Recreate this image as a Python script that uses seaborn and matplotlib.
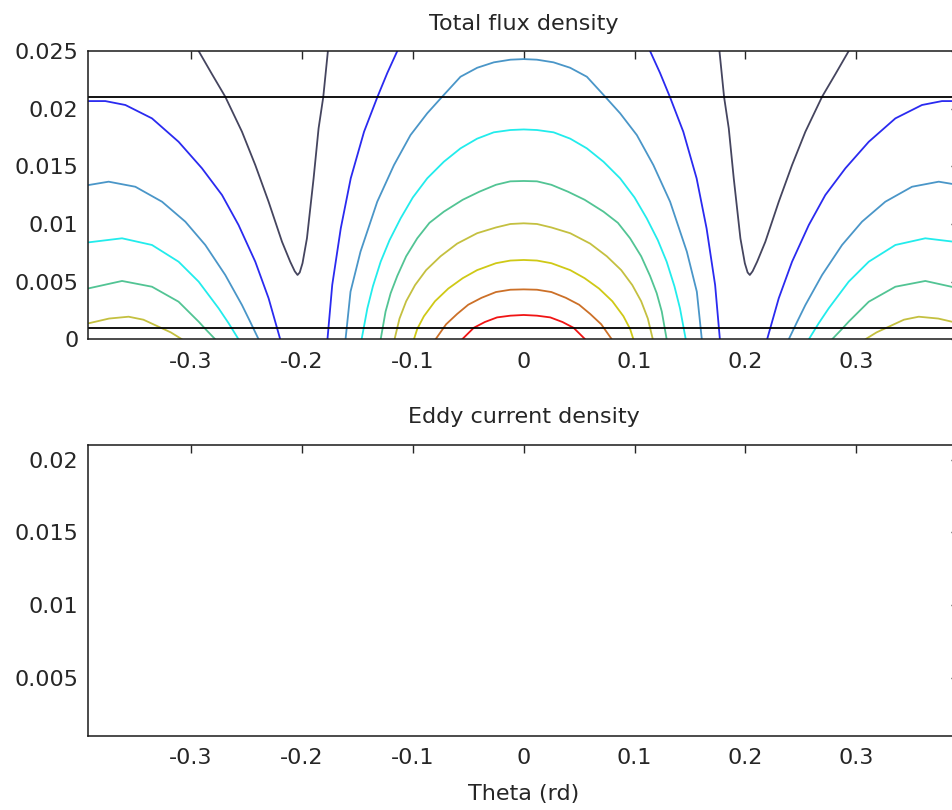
import matplotlib
matplotlib.use("Agg")
import matplotlib.pyplot as plt
import seaborn as sns

# x limits of both panels (rad) and y limits (m)
theta_lim = [-0.3927, 0.3927]
top_ylim = [0, 0.025]
bottom_ylim = [0.001, 0.021]
gap_lines = [0.001, 0.021]

x_ticks = [-0.3, -0.2, -0.1, 0, 0.1, 0.2, 0.3]
x_ticklabels = ["-0.3", "-0.2", "-0.1", "0", "0.1", "0.2", "0.3"]
top_yticks = [0, 0.005, 0.01, 0.015, 0.02, 0.025]
top_yticklabels = ["0", "0.005", "0.01", "0.015", "0.02", "0.025"]
bottom_yticks = [0.005, 0.01, 0.015, 0.02]
bottom_yticklabels = ["0.005", "0.01", "0.015", "0.02"]

# contour colours, lowest level first
level_colors = ["#45455f", "#2a2af0", "#4a96c8", "#22ecec", "#52c494",
                "#c4c040", "#cfc916", "#cc7028", "#f01414"]

# central domes, right half (x >= 0), mirrored later
red_x = [0, 0.012, 0.024, 0.035, 0.045, 0.0555]
red_y = [0.00211, 0.00205, 0.0019, 0.0015, 0.0010, 0]
orange_x = [0, 0.012, 0.025, 0.038, 0.05, 0.06, 0.07, 0.0795]
orange_y = [0.00433, 0.0043, 0.0041, 0.0036, 0.0030, 0.0022, 0.0013, 0]
yellow2_x = [0, 0.012, 0.025, 0.042, 0.055, 0.068, 0.08, 0.09, 0.096, 0.099]
yellow2_y = [0.00688, 0.00683, 0.0066, 0.0060, 0.0053, 0.0044, 0.0033, 0.0020,
             0.0009, 0]
yellow1_x = [0, 0.012, 0.025, 0.042, 0.06, 0.075, 0.088, 0.098, 0.106, 0.112,
             0.1165]
yellow1_y = [0.01006, 0.0100, 0.0097, 0.0092, 0.0083, 0.0072, 0.0060, 0.0047,
             0.0033, 0.0018, 0]
teal_x = [0, 0.012, 0.025, 0.04, 0.055, 0.072, 0.085, 0.096, 0.106, 0.114,
          0.12, 0.1246, 0.129]
teal_y = [0.01373, 0.0137, 0.0134, 0.0128, 0.0121, 0.01107, 0.0101, 0.00876,
          0.0072, 0.0055, 0.0040, 0.0024, 0]
cyan_x = [0, 0.012, 0.027, 0.042, 0.057, 0.072, 0.087, 0.1, 0.111, 0.121,
          0.129, 0.136, 0.141, 0.1462]
cyan_y = [0.0182, 0.01815, 0.01795, 0.0174, 0.01656, 0.0154, 0.01396, 0.0123,
          0.01049, 0.0086, 0.00673, 0.0046, 0.00269, 0]
steel_x = [0, 0.0119, 0.0269, 0.0419, 0.057, 0.0735, 0.087, 0.1021, 0.117,
           0.1321, 0.1472, 0.1562, 0.1607]
steel_y = [0.0243, 0.02425, 0.02402, 0.02355, 0.02277, 0.02104, 0.0196,
           0.01771, 0.01511, 0.01193, 0.0076, 0.00413, 0]

# blue branch between dome and valley (right side)
blue_in_x = [0.114, 0.123, 0.132, 0.144, 0.156, 0.165, 0.1727, 0.177]
blue_in_y = [0.025, 0.0231, 0.021, 0.018, 0.01396, 0.00962, 0.00471, 0]

# valley (lowest level), right side
valley_x = [0.1766, 0.1808, 0.185, 0.1895, 0.1955, 0.1995, 0.2020, 0.2040,
            0.2065, 0.2106, 0.218, 0.2301, 0.2421, 0.2541, 0.2692, 0.2812,
            0.2932]
valley_y = [0.025, 0.021, 0.0183, 0.01396, 0.00876, 0.0066, 0.0058, 0.00558,
            0.0059, 0.00673, 0.00846, 0.01193, 0.01511, 0.0180, 0.02104,
            0.0230, 0.025]

# side domes at the edges (right side)
side_blue_x = [0.2196, 0.2301, 0.2421, 0.2572, 0.2721, 0.2902, 0.3113, 0.3353,
               0.3593, 0.3774, 0.3924]
side_blue_y = [0, 0.00356, 0.00673, 0.00991, 0.01251, 0.01483, 0.01713,
               0.01916, 0.02032, 0.02066, 0.02066]
side_steel_x = [0.2391, 0.2471, 0.2541, 0.2692, 0.2872, 0.3052, 0.3262,
                0.3503, 0.3744, 0.3924]
side_steel_y = [0, 0.0016, 0.00297, 0.00558, 0.00818, 0.0102, 0.01193,
                0.01323, 0.01367, 0.01338]
side_cyan_x = [0.2572, 0.2662, 0.2752, 0.2932, 0.3113, 0.3353, 0.3623, 0.3924]
side_cyan_y = [0, 0.0014, 0.00269, 0.0050, 0.00673, 0.00818, 0.00876, 0.00841]
side_teal_x = [0.2782, 0.2862, 0.2932, 0.3113, 0.3353, 0.3623, 0.3924]
side_teal_y = [0, 0.0008, 0.00153, 0.00326, 0.00456, 0.00506, 0.00442]
side_yellow_x = [0.3082, 0.3183, 0.3293, 0.3430, 0.3564, 0.3740, 0.3924]
side_yellow_y = [0, 0.0006, 0.00109, 0.0017, 0.00196, 0.0018, 0.00139]

sns.set_theme(style="white")
plt.rcParams["font.family"] = ["DejaVu Sans"]
plt.rcParams["font.size"] = 16
text_color = "#262626"

fig = plt.figure(figsize=(9.53, 8.10), dpi=100)
ax1 = fig.add_axes([0.0927, 0.5811, 0.9136, 0.3559])
ax2 = fig.add_axes([0.0927, 0.0917, 0.9136, 0.3589])


def line(ax, xs, ys, color):
    sns.lineplot(x=xs, y=ys, ax=ax, color=color, lw=1.3, sort=False,
                 estimator=None, legend=False)


# domes across the centre
domes = [(steel_x, steel_y, level_colors[2]), (cyan_x, cyan_y, level_colors[3]),
         (teal_x, teal_y, level_colors[4]), (yellow1_x, yellow1_y, level_colors[5]),
         (yellow2_x, yellow2_y, level_colors[6]), (orange_x, orange_y, level_colors[7]),
         (red_x, red_y, level_colors[8])]
for xs, ys, c in domes:
    full_x = [-v for v in xs[::-1]] + xs[1:]
    full_y = ys[::-1] + ys[1:]
    line(ax1, full_x, full_y, c)

# pieces that appear once on each side
sides = [(valley_x, valley_y, level_colors[0]), (blue_in_x, blue_in_y, level_colors[1]),
         (side_blue_x, side_blue_y, level_colors[1]),
         (side_steel_x, side_steel_y, level_colors[2]),
         (side_cyan_x, side_cyan_y, level_colors[3]),
         (side_teal_x, side_teal_y, level_colors[4]),
         (side_yellow_x, side_yellow_y, level_colors[5])]
for xs, ys, c in sides:
    line(ax1, xs, ys, c)
    line(ax1, [-v for v in xs], ys, c)

for g in gap_lines:
    ax1.axhline(g, color="black", lw=1.3)

for ax in (ax1, ax2):
    ax.set_xlim(theta_lim)
    ax.set_xticks(x_ticks)
    ax.set_xticklabels(x_ticklabels)
    ax.tick_params(direction="in", top=True, right=True, length=6, width=1,
                   pad=7, colors=text_color, labelsize=16)
    ax.tick_params(axis="x", pad=9)
    for s in ax.spines.values():
        s.set_color("#1a1a1a")
        s.set_linewidth(1.1)

ax1.set_ylim(top_ylim)
ax1.set_yticks(top_yticks)
ax1.set_yticklabels(top_yticklabels)
ax2.set_ylim(bottom_ylim)
ax2.set_yticks(bottom_yticks)
ax2.set_yticklabels(bottom_yticklabels)

ax1.set_title("Total flux density", fontsize=16, color=text_color, pad=15)
ax2.set_title("Eddy current density", fontsize=16, color=text_color, pad=16)
ax2.set_xlabel("Theta (rd)", fontsize=16, color=text_color, labelpad=11)

fig.savefig("out.png", dpi=100)
